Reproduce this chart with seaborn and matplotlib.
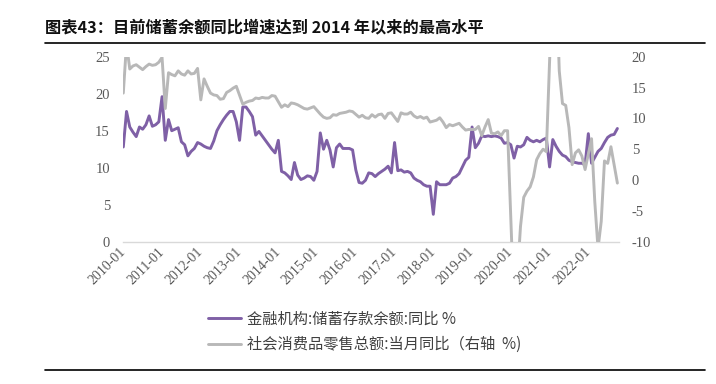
import numpy as np
import pandas as pd
import matplotlib
matplotlib.use("Agg")
import matplotlib.pyplot as plt
import seaborn as sns
from matplotlib.lines import Line2D

# ---------------- data ----------------
months = pd.date_range("2010-01", "2022-10", freq="MS").strftime("%Y-%m").tolist()
month_index = list(range(len(months)))  # 154 monthly points

# 金融机构:储蓄存款余额:同比 (%)  left axis
deposit_yoy = [
    12.8, 17.6, 15.5, 14.8, 14.2, 15.5, 15.2, 15.8, 17.0, 15.6, 15.8, 16.2,   # 2010
    19.6, 13.7, 16.5, 15.0, 15.2, 15.4, 13.5, 13.1, 11.6, 12.2, 12.6, 13.4,   # 2011
    13.2, 12.9, 12.7, 12.6, 13.6, 15.0, 15.8, 16.5, 17.1, 17.6, 17.6, 16.2,   # 2012
    13.7, 18.2, 18.2, 17.6, 16.9, 14.4, 14.9, 14.3, 13.7, 13.1, 12.5, 12.0,   # 2013
    13.7, 9.5, 9.3, 8.9, 8.4, 10.7, 9.0, 8.4, 8.6, 8.9, 8.8, 8.3,             # 2014
    9.5, 14.7, 12.5, 13.7, 12.4, 10.1, 12.7, 13.2, 12.6, 12.6, 12.6, 12.4,    # 2015
    9.7, 8.0, 7.9, 8.3, 9.3, 9.2, 8.8, 9.2, 9.5, 9.8, 10.2, 9.3,              # 2016
    13.4, 9.6, 9.7, 9.4, 9.5, 9.3, 8.6, 8.3, 8.1, 7.7, 7.5, 7.5,              # 2017
    3.7, 8.1, 7.7, 7.7, 7.7, 7.9, 8.6, 8.8, 9.2, 10.1, 11.0, 11.4,            # 2018
    15.5, 12.7, 13.3, 14.3, 14.2, 14.3, 14.2, 14.3, 14.2, 14.0, 13.3, 13.4,   # 2019
    13.1, 11.3, 12.9, 12.8, 13.1, 14.1, 13.7, 13.5, 13.7, 13.5, 13.8, 14.0,   # 2020
    10.1, 13.8, 12.9, 12.2, 11.7, 11.5, 11.0, 10.8, 10.7, 10.6, 10.6, 10.4,   # 2021
    14.6, 10.6, 11.4, 12.2, 12.6, 13.4, 14.1, 14.4, 14.5, 15.3,               # 2022
]

# 社会消费品零售总额:当月同比 (%)  right axis (January often not published)
nan = np.nan
retail_yoy = [
    14.1, 22.1, 18.0, 18.5, 18.7, 18.3, 17.9, 18.4, 18.8, 18.6, 18.7, 19.1,   # 2010
    19.9, 11.6, 17.4, 17.1, 16.9, 17.7, 17.2, 17.0, 17.7, 17.2, 17.3, 18.1,   # 2011
    13.0, 16.4, 15.2, 14.1, 13.8, 13.7, 13.1, 13.2, 14.2, 14.5, 14.9, 15.2,   # 2012
    nan, 12.3, 12.6, 12.8, 12.9, 13.3, 13.2, 13.4, 13.3, 13.3, 13.7, 13.6,    # 2013
    nan, 11.8, 12.2, 11.9, 12.5, 12.4, 12.2, 11.9, 11.6, 11.5, 11.7, 11.9,    # 2014
    nan, 10.7, 10.2, 10.0, 10.1, 10.6, 10.5, 10.8, 10.9, 11.0, 11.2, 11.1,    # 2015
    nan, 10.2, 10.5, 10.1, 10.0, 10.6, 10.2, 10.6, 10.7, 10.0, 10.8, 10.9,    # 2016
    nan, 9.5, 10.9, 10.7, 10.7, 11.0, 10.4, 10.1, 10.3, 10.0, 10.2, 9.4,      # 2017
    nan, 9.7, 10.1, 9.4, 8.5, 9.0, 8.8, 9.0, 9.2, 8.6, 8.1, 8.2,              # 2018
    nan, 8.2, 8.7, 7.2, 8.6, 9.8, 7.6, 7.5, 7.8, 7.2, 8.0, 8.0,               # 2019
    nan, -20.5, -15.8, -7.5, -2.8, -1.8, -1.1, 0.5, 3.3, 4.3, 5.0, 4.6,       # 2020
    nan, 33.8, 34.2, 17.7, 12.4, 12.1, 8.5, 2.5, 4.4, 4.9, 3.9, 1.7,          # 2021
    nan, 6.7, -3.5, -11.1, -6.7, 3.1, 2.7, 5.4, 2.5, -0.5,                    # 2022
]

tick_labels = [f"{y}-01" for y in range(2010, 2023)]
left_ticks = [0, 5, 10, 15, 20, 25]
right_ticks = [-10, -5, 0, 5, 10, 15, 20]

title = "图表43：目前储蓄余额同比增速达到 2014 年以来的最高水平"
label_deposit = "金融机构:储蓄存款余额:同比 %"
label_retail = "社会消费品零售总额:当月同比（右轴  %)"

# ---------------- style ----------------
sns.set_style("white")
plt.rcParams["font.family"] = ["Noto Sans CJK SC", "DejaVu Sans"]
plt.rcParams["axes.unicode_minus"] = False

PURPLE = "#7F60A6"
GRAY = "#B8B8B8"
TICK_C = "#595959"
SERIF = ["Liberation Serif", "DejaVu Serif"]

df = pd.DataFrame({"month": month_index, "deposit": deposit_yoy, "retail": retail_yoy})

W, H = 716, 384
fig = plt.figure(figsize=(W / 100, H / 100), dpi=100)
x0, x1, y_top, y_bot = 123.3, 619.0, 56.7, 241.7
ax = fig.add_axes([x0 / W, 1 - y_bot / H, (x1 - x0) / W, (y_bot - y_top) / H])

sns.lineplot(data=df, x="month", y="deposit", ax=ax, color=PURPLE, lw=2.1, legend=False)
ax2 = ax.twinx()
sns.lineplot(data=df.dropna(subset=["retail"]), x="month", y="retail", ax=ax2,
             color=GRAY, lw=2.1, legend=False)

ax.set_xlim(0, len(months) - 0.5)
ax.set_ylim(0, 25)
ax2.set_ylim(-10, 20)
ax.set_yticks(left_ticks)
ax2.set_yticks(right_ticks)
ax.set_xticks(month_index[::12])
ax.set_xticklabels(tick_labels)
for a in (ax, ax2):
    a.set_xlabel("")
    a.set_ylabel("")
    a.grid(False)
    for s in a.spines.values():
        s.set_visible(False)
ax.spines["bottom"].set_visible(True)
ax.spines["bottom"].set_color("#D9D9D9")
ax.spines["bottom"].set_linewidth(1.0)

ax.tick_params(axis="y", length=0, pad=9.6, labelsize=10.5, labelcolor=TICK_C)
ax2.tick_params(axis="y", length=0, pad=9.1, labelsize=10.5, labelcolor=TICK_C)
ax.tick_params(axis="x", length=0, pad=6, labelsize=10, labelcolor=TICK_C)
for lbl in ax.get_yticklabels() + ax2.get_yticklabels():
    lbl.set_fontfamily(SERIF)
for lbl in ax.get_xticklabels():
    lbl.set_fontfamily(SERIF)
    lbl.set_rotation(45)
    lbl.set_ha("right")
    lbl.set_va("center")
    lbl.set_rotation_mode("anchor")

# legend
handles = [Line2D([], [], color=PURPLE, lw=2.1), Line2D([], [], color=GRAY, lw=2.1)]
fig.legend(handles, [label_deposit, label_retail], loc="center left",
           bbox_to_anchor=(200.8 / W, 1 - 332.0 / H), frameon=False,
           fontsize=11, handlelength=2.15, handletextpad=0.35, borderpad=0,
           labelspacing=0.55, labelcolor="#404040")

# title and rules
fig.text(45 / W, 1 - 27 / H, title, fontsize=11.7, fontweight="bold",
         va="center", ha="left", color="#111111")
fig.add_artist(Line2D([45 / W, 705 / W], [1 - 43 / H, 1 - 43 / H], color="black", lw=1.2))
fig.add_artist(Line2D([45 / W, 705 / W], [1 - 370 / H, 1 - 370 / H], color="black", lw=1.2))

fig.savefig("out.png", dpi=100)
